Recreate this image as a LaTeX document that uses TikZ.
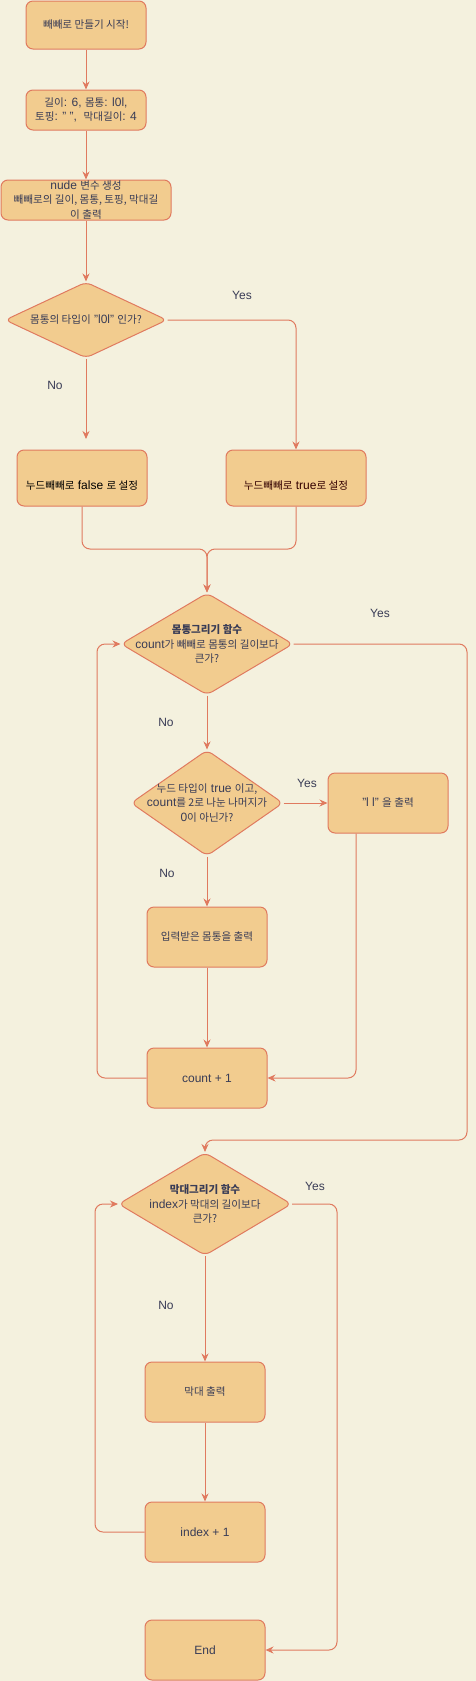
\documentclass[tikz,border=0pt]{standalone}
\usepackage{fontspec}
\setmainfont{Liberation Sans}
\newfontfamily\kr{Noto Sans CJK KR}[Scale=0.88]
\usetikzlibrary{shapes.geometric,arrows.meta}
\definecolor{bgc}{HTML}{F4F1DE}
\definecolor{fillc}{HTML}{F2CC8F}
\definecolor{strokec}{HTML}{E07A5F}
\definecolor{fontc}{HTML}{393C56}
\definecolor{truec}{HTML}{330000}
\begin{document}
\begin{tikzpicture}[x=1pt,y=-1pt,
  font=\fontsize{12}{14.5}\selectfont,
  box/.style={draw=strokec, fill=fillc, rounded corners=7pt, line width=1pt, text=fontc, align=center, inner sep=2pt},
  dia/.style={diamond, draw=strokec, fill=fillc, rounded corners=6pt, line width=1pt, inner sep=0pt},
  txt/.style={text=fontc, align=center, inner sep=0pt},
  arr/.style={draw=strokec, line width=1pt, -{Stealth[length=8pt,width=7pt]}, rounded corners=8pt},
  lab/.style={text=fontc, inner sep=0pt}]
\fill[bgc] (0,0) rectangle (476,1681);
\useasboundingbox (0,0) rectangle (476,1681);

% nodes
\node[box, minimum width=120pt, minimum height=48pt] (start) at (86,25) {{\kr 빼빼로 만들기 시작!}};
\node[box, minimum width=120pt, minimum height=40pt] (init) at (86,110) {{\kr 길이}: 6, {\kr 몸통}: l0l,\\{\kr 토핑}: " ",~~{\kr 막대길이}: 4};
\node[box, minimum width=170pt, minimum height=40pt] (nude) at (86,200) {};
\node[txt] at (nude) {nude {\kr 변수 생성}\\{\kr 빼빼로의 길이, 몸통, 토핑, 막대길}\\{\kr 이 출력}};
\node[dia, minimum width=162pt, minimum height=76pt] (d1) at (86,320) {};
\node[txt] at (d1) {{\kr 몸통의 타입이} "l0l" {\kr 인가?}};
\node[box, minimum width=130pt, minimum height=56pt] (f) at (82,478) {};
\node[txt, text=black] at ([yshift=-8pt]f.center) {{\kr 누드빼빼로} false {\kr 로 설정}};
\node[box, minimum width=140pt, minimum height=56pt] (t) at (296,478) {};
\node[txt, text=truec] at ([yshift=-8pt]t.center) {{\kr 누드빼빼로} true{\kr 로 설정}};
\node[dia, minimum width=172pt, minimum height=102pt] (d2) at (207,644) {};
\node[txt] at (d2) {{\kr\bfseries 몸통그리기 함수}\\count{\kr 가 빼빼로 몸통의 길이보다}\\{\kr 큰가?}};
\node[dia, minimum width=152pt, minimum height=106pt] (d3) at (207,803) {};
\node[txt] at (d3) {{\kr 누드 타입이} true {\kr 이고,}\\count{\kr 를 2로 나눈 나머지가}\\0{\kr 이 아닌가?}};
\node[box, minimum width=120pt, minimum height=60pt] (ll) at (388,803) {"l l" {\kr 을 출력}};
\node[box, minimum width=120pt, minimum height=60pt] (inp) at (207,937) {{\kr 입력받은 몸통을 출력}};
\node[box, minimum width=120pt, minimum height=60pt] (cnt) at (207,1078) {count + 1};
\node[dia, minimum width=173pt, minimum height=103pt] (d4) at (205,1204) {};
\node[txt] at (d4) {{\kr\bfseries 막대그리기 함수}\\index{\kr 가 막대의 길이보다}\\{\kr 큰가?}};
\node[box, minimum width=120pt, minimum height=60pt] (bar) at (205,1392) {{\kr 막대 출력}};
\node[box, minimum width=120pt, minimum height=60pt] (idx) at (205,1532) {index + 1};
\node[box, minimum width=120pt, minimum height=60pt] (end) at (205,1650) {End};

% labels
\node[lab] at (242,295) {Yes};
\node[lab] at (55,385) {No};
\node[lab] at (380,613) {Yes};
\node[lab] at (166,722) {No};
\node[lab] at (307,783) {Yes};
\node[lab] at (167,873) {No};
\node[lab] at (315,1186) {Yes};
\node[lab] at (166,1305) {No};

% helper coordinates
\coordinate (fa) at (86,439);
\coordinate (m) at (207,549);
\coordinate (r1) at (467,1140);
\coordinate (lp1) at (97,1078);
\coordinate (r2) at (337,1650);
\coordinate (lp2) at (95,1532);

% connectors
\draw[arr] (start) -- (init);
\draw[arr] (init) -- (nude);
\draw[arr] (nude) -- (d1);
\draw[arr] (d1.east) -| (t.north);
\draw[arr] (d1.south) -- (fa);
\draw[arr] (f.south) |- (m) -- (d2.north);
\draw[arr] (t.south) |- (m) -- (d2.north);
\draw[arr] (d2.east) -| (r1) -| (d4.north);
\draw[arr] (d2.south) -- (d3.north);
\draw[arr] (d3.east) -- (ll.west);
\draw[arr] (d3.south) -- (inp.north);
\draw[arr] (inp.south) -- (cnt.north);
\draw[arr] ([xshift=-32pt]ll.south) |- (cnt.east);
\draw[arr] (cnt.west) -- (lp1) |- (d2.west);
\draw[arr] (d4.east) -| (r2) -- (end.east);
\draw[arr] (d4.south) -- (bar.north);
\draw[arr] (bar.south) -- (idx.north);
\draw[arr] (idx.west) -- (lp2) |- (d4.west);
\end{tikzpicture}
\end{document}
